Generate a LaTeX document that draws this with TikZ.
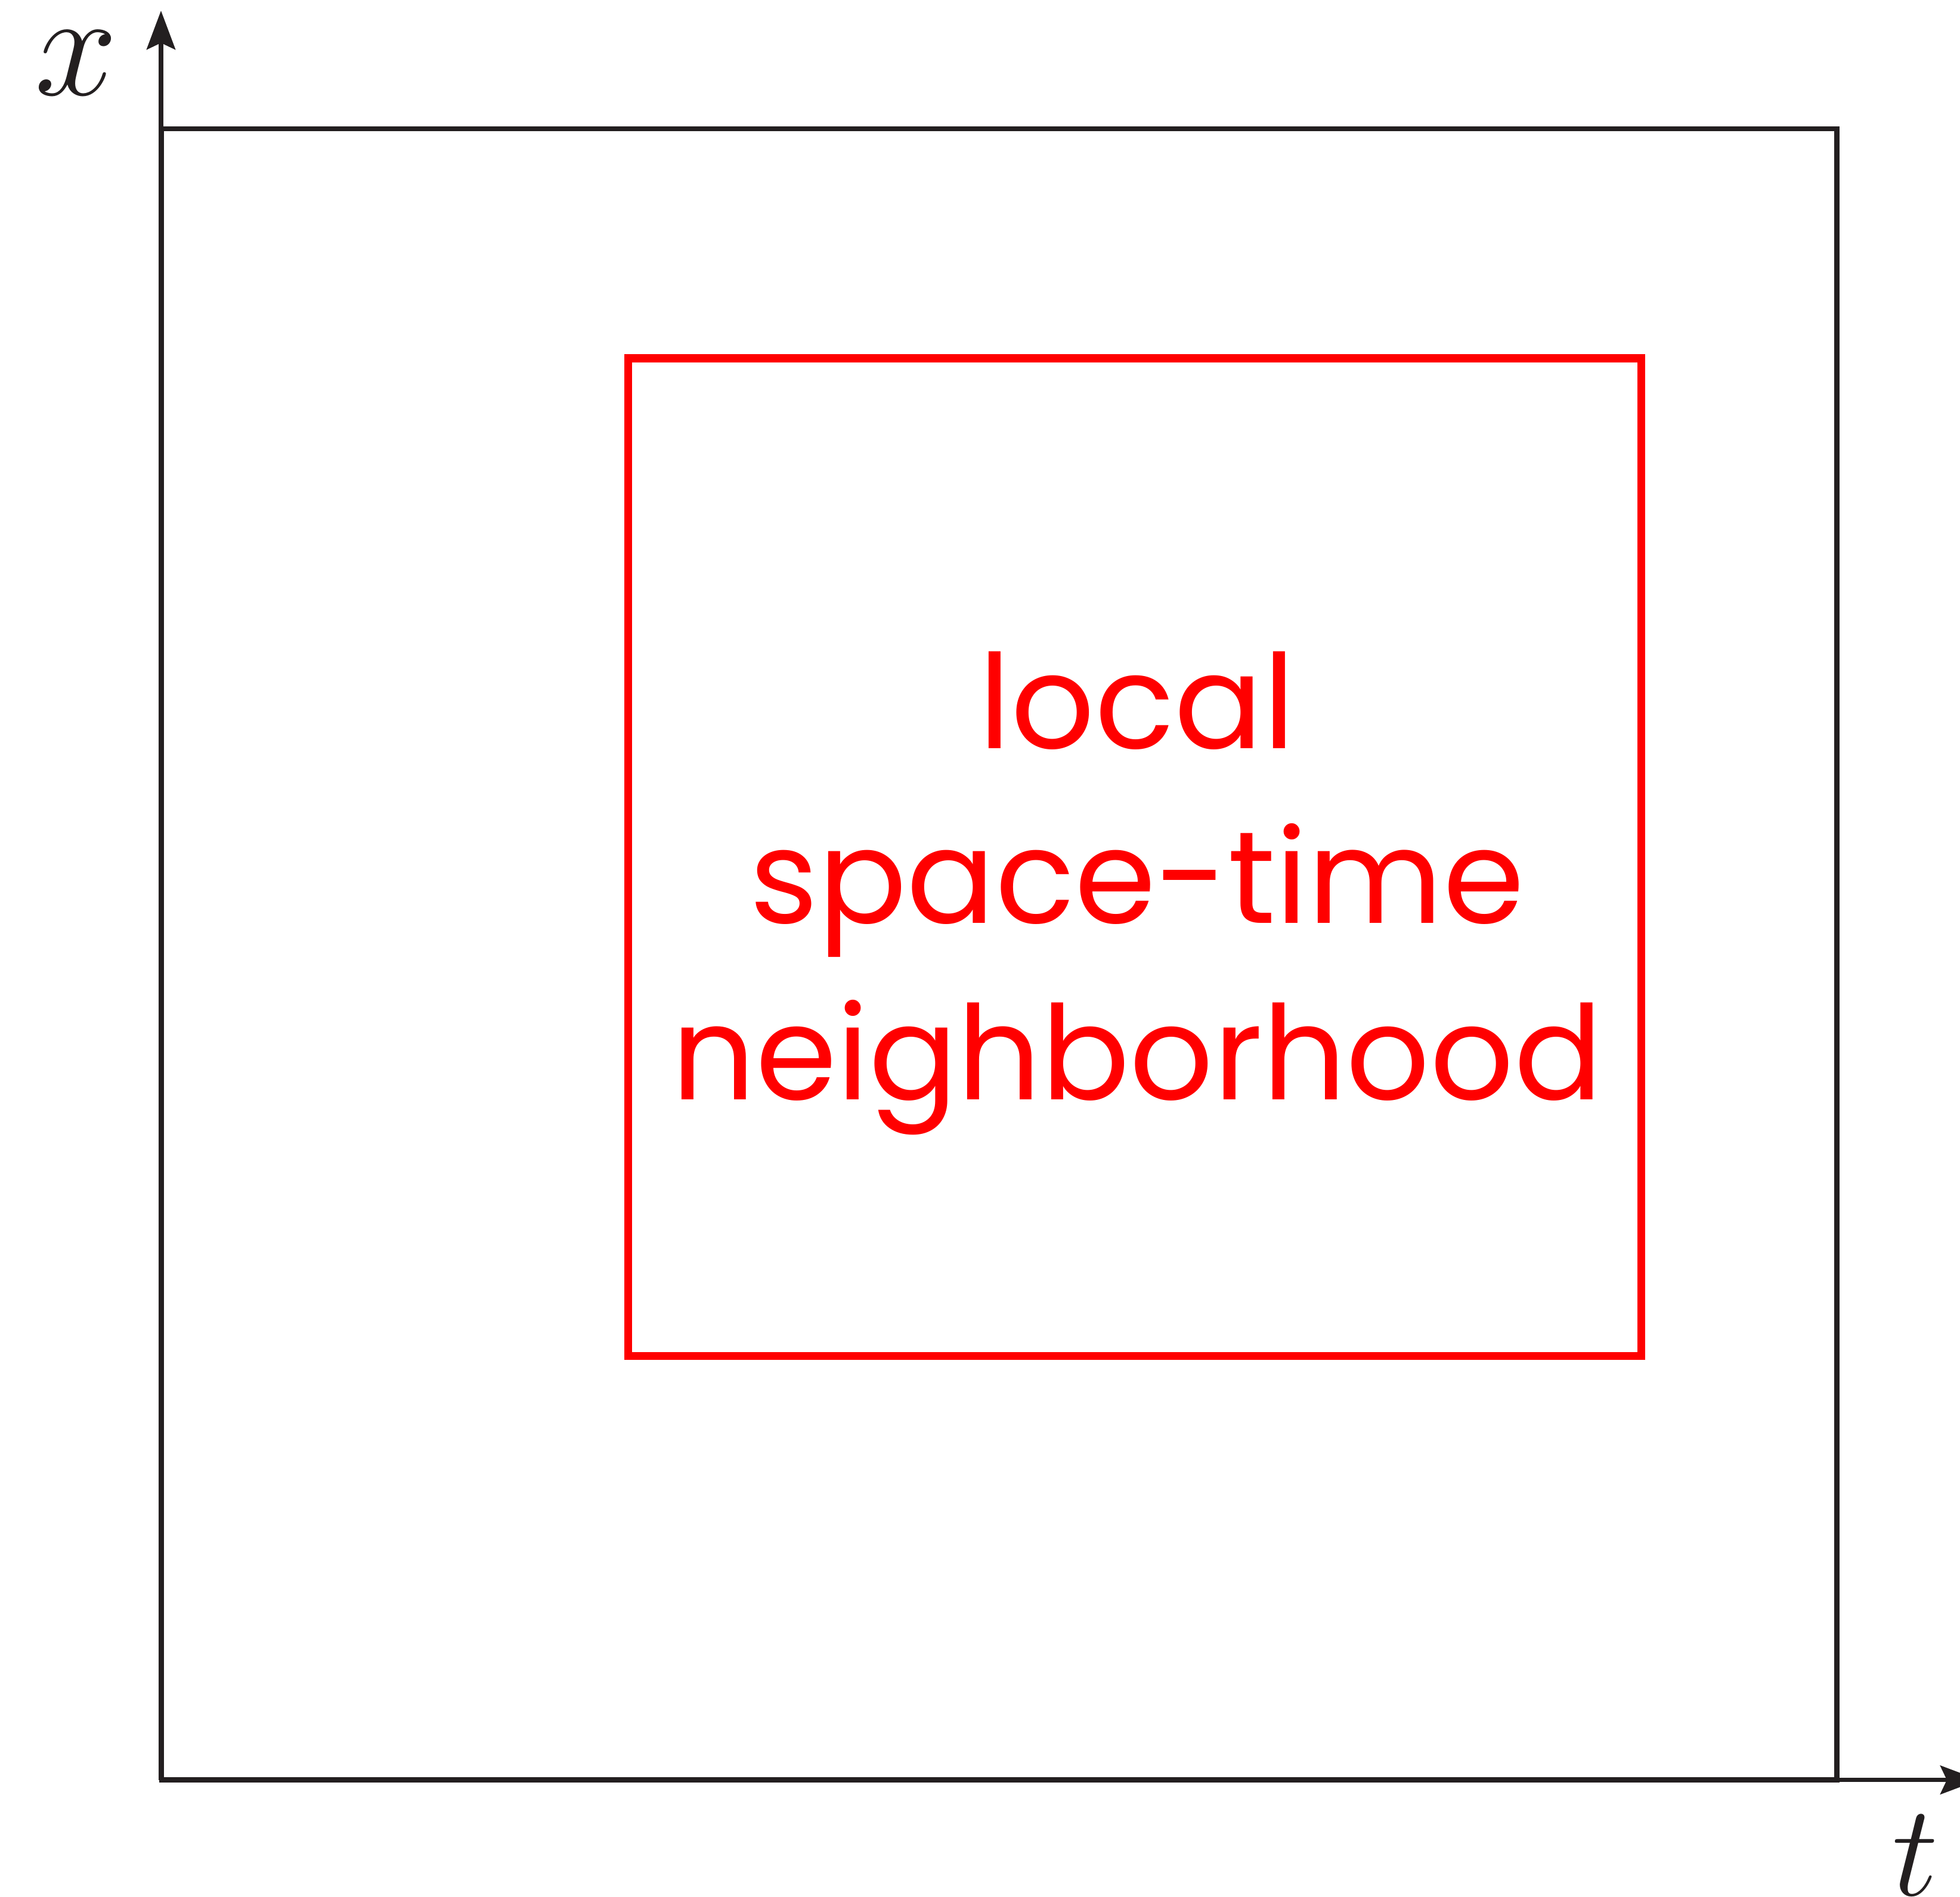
\documentclass[tikz,border=0pt]{standalone}
\usepackage{fontspec}
\newfontfamily\labelfont{Poppins}
\usetikzlibrary{arrows.meta}
\definecolor{inkgray}{HTML}{231F20}
\newcommand{\biglabel}[2]{\scalebox{#1}{\Huge$#2$}}
\begin{document}
\begin{tikzpicture}[
  frame/.style={draw=inkgray, line width=0.085cm},
  axis/.style={draw=inkgray, line width=0.075cm,
    -{Stealth[length=0.65cm, width=0.48cm, inset=0.11cm]}},
  hood/.style={draw=red, line width=0.135cm},
  axislabel/.style={inkgray, inner sep=0pt, anchor=base},
  hoodtext/.style={red, font=\labelfont\fontsize{62.5}{75}\selectfont, inner sep=0pt, anchor=base}
]
\useasboundingbox (0,0) rectangle (32.87,31.82);

% origin and axis ends
\coordinate (O) at (2.70,1.963);
\coordinate (xend) at (2.70,31.64);
\coordinate (tend) at (33.19,1.963);

% outer domain
\coordinate (dSW) at (2.71,1.963);
\coordinate (dNE) at (30.805,29.66);
\draw[frame] (dSW) rectangle (dNE);

% axes
\draw[axis] (O) -- (xend);
\draw[axis] (O) -- (tend);
\node[axislabel] (xlab) at (1.275,30.22) {\biglabel{2.85}{x}};
\node[axislabel] (tlab) at (32.12,0.02) {\biglabel{2.5}{t}};

% local neighbourhood
\coordinate (nSW) at (10.535,9.075);
\coordinate (nNE) at (27.525,25.81);
\draw[hood] (nSW) rectangle (nNE);
\node[hoodtext] (l1) at (19.07,19.26) {local};
\node[hoodtext] (l2) at (19.07,16.33) {space-time};
\node[hoodtext] (l3) at (19.07,13.37) {neighborhood};
\end{tikzpicture}
\end{document}
